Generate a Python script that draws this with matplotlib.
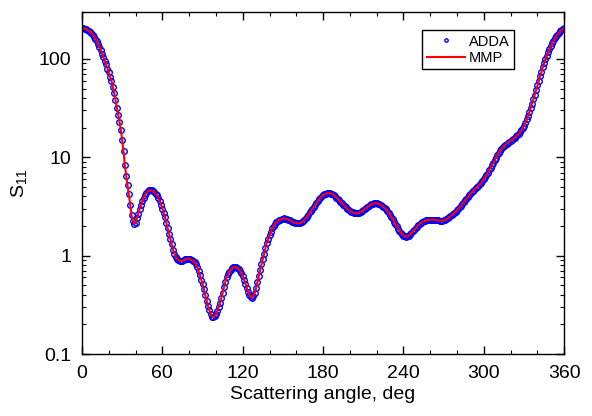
import numpy as np
import matplotlib
matplotlib.use("Agg")
import matplotlib.pyplot as plt
from matplotlib.ticker import FixedLocator, FuncFormatter, LogLocator, MultipleLocator

plt.rcParams['font.family'] = ['Liberation Sans', 'DejaVu Sans']
plt.rcParams['mathtext.fontset'] = 'custom'
plt.rcParams['mathtext.rm'] = 'Liberation Sans'
plt.rcParams['mathtext.default'] = 'regular'

# one value per degree, S11
angle = list(range(0, 361))
s11 = [205, 205, 203, 201, 198, 194, 190, 184, 177, 169,
       160, 151, 142, 132, 123, 113, 104, 96, 88, 80,
       73, 66, 60, 52, 45, 38, 32, 27, 23, 19,
       15, 11.5, 8.3, 6.5, 5.2, 4.2, 3.3, 2.6, 2.25, 2.1,
       2.15, 2.4, 2.65, 2.95, 3.3, 3.6, 3.9, 4.15, 4.35, 4.5,
       4.6, 4.62, 4.6, 4.5, 4.4, 4.25, 4.1, 3.85, 3.6, 3.3,
       3.0, 2.72, 2.45, 2.15, 1.9, 1.67, 1.48, 1.3, 1.15, 1.05,
       0.97, 0.93, 0.9, 0.89, 0.88, 0.89, 0.9, 0.92, 0.93, 0.935,
       0.93, 0.92, 0.9, 0.88, 0.86, 0.82, 0.76, 0.7, 0.63, 0.57,
       0.52, 0.46, 0.40, 0.35, 0.31, 0.28, 0.255, 0.24, 0.236, 0.243,
       0.255, 0.275, 0.30, 0.33, 0.37, 0.42, 0.48, 0.54, 0.60, 0.65,
       0.69, 0.72, 0.75, 0.76, 0.765, 0.76, 0.75, 0.73, 0.70, 0.66,
       0.62, 0.57, 0.52, 0.47, 0.43, 0.40, 0.38, 0.375, 0.39, 0.42,
       0.47, 0.54, 0.62, 0.72, 0.82, 0.93, 1.05, 1.2, 1.35, 1.48,
       1.62, 1.76, 1.9, 2.0, 2.1, 2.18, 2.25, 2.3, 2.33, 2.36,
       2.38, 2.39, 2.38, 2.36, 2.33, 2.29, 2.25, 2.21, 2.18, 2.16,
       2.14, 2.13, 2.13, 2.15, 2.18, 2.24, 2.32, 2.4, 2.5, 2.62,
       2.75, 2.87, 3.0, 3.15, 3.3, 3.45, 3.6, 3.75, 3.9, 4.03,
       4.15, 4.22, 4.28, 4.31, 4.32, 4.31, 4.28, 4.2, 4.12, 4.02,
       3.9, 3.78, 3.65, 3.53, 3.42, 3.31, 3.2, 3.1, 3.0, 2.92,
       2.85, 2.8, 2.75, 2.72, 2.7, 2.69, 2.7, 2.74, 2.78, 2.84,
       2.9, 2.97, 3.05, 3.13, 3.2, 3.27, 3.33, 3.37, 3.4, 3.41,
       3.4, 3.38, 3.35, 3.29, 3.22, 3.14, 3.05, 2.95, 2.85, 2.73,
       2.6, 2.47, 2.35, 2.22, 2.1, 1.99, 1.88, 1.8, 1.72, 1.65,
       1.6, 1.57, 1.56, 1.57, 1.6, 1.65, 1.7, 1.77, 1.83, 1.9,
       1.97, 2.04, 2.1, 2.15, 2.2, 2.23, 2.26, 2.28, 2.3, 2.31,
       2.32, 2.32, 2.32, 2.31, 2.3, 2.29, 2.28, 2.27, 2.27, 2.27,
       2.28, 2.31, 2.35, 2.4, 2.45, 2.51, 2.58, 2.65, 2.72, 2.81,
       2.9, 3.0, 3.1, 3.22, 3.35, 3.5, 3.65, 3.8, 3.95, 4.1,
       4.25, 4.4, 4.55, 4.7, 4.85, 5.0, 5.15, 5.3, 5.5, 5.75,
       6.0, 6.3, 6.6, 7.0, 7.4, 7.85, 8.3, 8.8, 9.3, 9.9,
       10.5, 11.1, 11.6, 12.1, 12.6, 13.0, 13.4, 13.8, 14.1, 14.45,
       14.8, 15.15, 15.5, 15.9, 16.3, 16.8, 17.3, 18.0, 18.8, 19.8,
       21, 22.6, 24.5, 26.6, 29, 32, 35, 39, 43, 48,
       54, 60, 67, 74, 82, 91, 100, 108, 117, 126,
       135, 144, 153, 162, 170, 177, 184, 191, 197, 201,
       205]

fig = plt.figure(figsize=(5.92, 4.16), dpi=100)
ax = fig.add_axes([0.1385, 0.149, 0.8145, 0.822])

ax.plot(angle, s11, 'o', mfc='none', mec='blue', ms=4.0, mew=1.0, label='ADDA')
ax.plot(angle, s11, '-', color='red', lw=1.5, label='MMP')

ax.set_yscale('log')
ax.set_xlim(0, 360)
ax.set_ylim(0.1, 300)
ax.xaxis.set_major_locator(MultipleLocator(60))
ax.xaxis.set_minor_locator(MultipleLocator(20))
ax.yaxis.set_major_locator(FixedLocator([0.1, 1, 10, 100]))
ax.yaxis.set_minor_locator(LogLocator(base=10, subs=np.arange(2, 10)))
ax.yaxis.set_major_formatter(FuncFormatter(lambda v, p: '%g' % v))

ax.tick_params(which='both', direction='in', top=True, right=True, labelsize=14, pad=8)
ax.tick_params(which='major', length=6, width=1)
ax.tick_params(which='minor', length=3, width=0.8)
for s in ax.spines.values():
    s.set_linewidth(1)

ax.set_xlabel('Scattering angle, deg', fontsize=14, labelpad=3)
ax.set_ylabel('S$_{11}$', fontsize=14, labelpad=7)

leg = ax.legend(loc='upper right', bbox_to_anchor=(0.896, 0.947), fontsize=10.5,
                numpoints=1, markerscale=0.6, handlelength=2.6, handletextpad=0.3,
                fancybox=False, framealpha=1, edgecolor='black',
                borderpad=0.3, labelspacing=0.15, borderaxespad=0)
leg.get_frame().set_linewidth(1)

fig.savefig('out.png', dpi=100)
